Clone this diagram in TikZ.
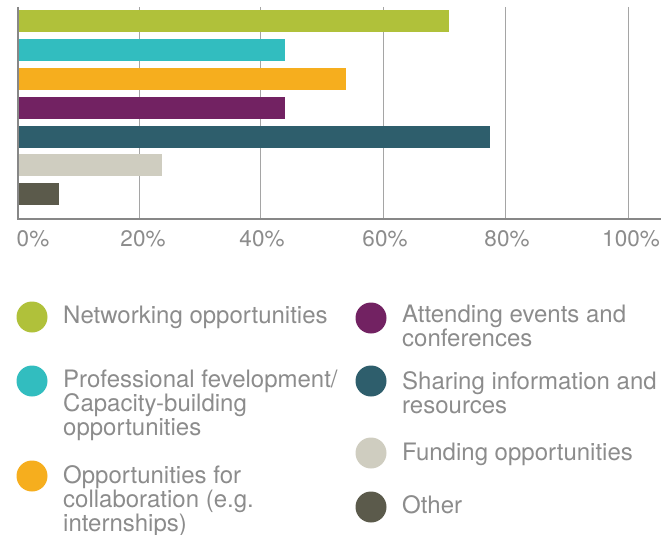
\documentclass[tikz,border=0pt]{standalone}
\usepackage{fontspec}
\setmainfont{TeX Gyre Heros}
\usepackage{tikz}
\usetikzlibrary{calc}

\definecolor{netgreen}{RGB}{176,193,58}
\definecolor{devcyan}{RGB}{50,189,191}
\definecolor{colorange}{RGB}{246,174,30}
\definecolor{evpurple}{RGB}{114,34,98}
\definecolor{infoteal}{RGB}{46,94,108}
\definecolor{fundgray}{RGB}{207,205,192}
\definecolor{otherdark}{RGB}{91,90,75}
\definecolor{txtgray}{RGB}{140,140,140}
\definecolor{gridgray}{RGB}{165,165,165}
\definecolor{axisgray}{RGB}{135,135,135}

\tikzset{
    gridline/.style={draw=gridgray, line width=1pt},
    axisline/.style={draw=axisgray, line width=2.5pt, line join=miter},
    ticklabel/.style={text=txtgray, font=\fontsize{22.5}{22.5}\selectfont, anchor=base, inner sep=0pt},
    dot/.style={circle, minimum size=31pt, inner sep=0pt},
    legendtext/.style={text=txtgray, font=\fontsize{24}{24}\selectfont, align=left, anchor=base west, inner sep=0pt},
}

\begin{document}
\begin{tikzpicture}[x=1pt,y=-1pt]
    \useasboundingbox (0,0) rectangle (672,535);
    \coordinate (T) at (18,7);
    \coordinate (O) at (18,219);
    \coordinate (E) at (661,219);

    \draw[gridline] (139,7) -- (139,219);
    \draw[gridline] (260,7) -- (260,219);
    \draw[gridline] (383,7) -- (383,219);
    \draw[gridline] (505,7) -- (505,219);
    \draw[gridline] (628,7) -- (628,219);

    \fill[netgreen] (19,10) rectangle (449,31.7);
    \fill[devcyan] (19,39) rectangle (285,60.7);
    \fill[colorange] (19,68) rectangle (346,89.7);
    \fill[evpurple] (19,97) rectangle (285,118.7);
    \fill[infoteal] (19,126) rectangle (490,147.7);
    \fill[fundgray] (19,154) rectangle (162,175.7);
    \fill[otherdark] (19,183) rectangle (59,204.7);

    \draw[axisline] (T) -- (O) -- (E);

    \node[ticklabel] (t0) at (33,246) {0\%};
    \node[ticklabel] (t20) at (143,246) {20\%};
    \node[ticklabel] (t40) at (262,246) {40\%};
    \node[ticklabel] (t60) at (385,246) {60\%};
    \node[ticklabel] (t80) at (507,246) {80\%};
    \node[ticklabel] (t100) at (631,246) {100\%};

    \node[dot, fill=netgreen] (d1) at (32,317) {};
    \node[dot, fill=devcyan] (d2) at (32,381) {};
    \node[dot, fill=colorange] (d3) at (32,476) {};
    \node[dot, fill=evpurple] (d4) at (371,318) {};
    \node[dot, fill=infoteal] (d5) at (371,381) {};
    \node[dot, fill=fundgray] (d6) at (371,453) {};
    \node[dot, fill=otherdark] (d7) at (371,507) {};

    \node[legendtext] (l1) at (63,323) {Networking opportunities};
    \node[legendtext] (l2) at (63,435) {Professional fevelopment/\\Capacity-building\\opportunities};
    \node[legendtext] (l3) at (63,531) {Opportunities for\\collaboration (e.g.\\internships)};
    \node[legendtext] (l4) at (402,346) {Attending events and\\conferences};
    \node[legendtext] (l5) at (402,413) {Sharing information and\\resources};
    \node[legendtext] (l6) at (402,460) {Funding opportunities};
    \node[legendtext] (l7) at (402,513) {Other};

\end{tikzpicture}
\end{document}
